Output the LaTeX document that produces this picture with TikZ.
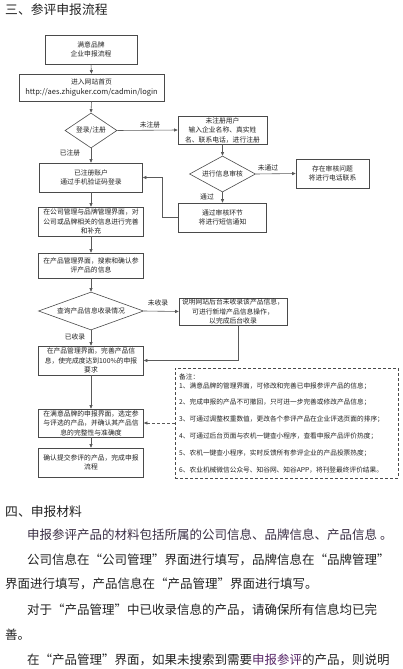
\documentclass[tikz,border=0pt]{standalone}
\usepackage{fontspec}
\usetikzlibrary{arrows.meta,shapes.geometric}
\newfontfamily\cjk{Noto Sans CJK SC}
\definecolor{lnc}{HTML}{5A5A5A}
\definecolor{bdc}{HTML}{4A4A4A}
\definecolor{txc}{HTML}{222222}
\definecolor{ppl}{HTML}{5A2A6A}
\definecolor{ppd}{HTML}{3A2E44}
\newcommand\qo{\makebox[1em][r]{“}}
\newcommand\qc{\makebox[1em][l]{”}}
\begin{document}
\begin{tikzpicture}[x=1pt,y=-1pt,
  every node/.style={font=\cjk, text=txc},
  flowbox/.style={draw=bdc, line width=0.6pt, rectangle, align=center, inner sep=1pt,
    font=\cjk\fontsize{6.8}{9.5}\selectfont},
  decide/.style={draw=bdc, line width=0.6pt, diamond, inner sep=0pt, align=center,
    font=\cjk\fontsize{6.8}{9.5}\selectfont},
  lbl/.style={inner sep=0pt, font=\cjk\fontsize{6.8}{8}\selectfont},
  notebox/.style={draw=bdc, line width=0.6pt, dash pattern=on 3pt off 2pt, rectangle},
  notetxt/.style={anchor=west, inner sep=0pt, font=\cjk\fontsize{6.7}{8}\selectfont},
  bodytxt/.style={anchor=west, inner sep=0pt, font=\cjk\fontsize{12.5}{15}\selectfont},
  headtxt/.style={anchor=west, inner sep=0pt, font=\cjk\fontsize{12.8}{15}\selectfont},
  arr/.style={draw=lnc, line width=0.6pt, -{Triangle[length=3.5pt,width=3pt]}}
]
\useasboundingbox (0,0) rectangle (402,669);

% heading
\node[headtxt] (h3) at (5,10) {三、参评申报流程};

% left column
\node[flowbox, minimum width=92pt, minimum height=29pt] (b1) at (91,49.5) {满意品牌\\企业申报流程};
\node[flowbox, minimum width=145pt, minimum height=27pt] (b2) at (91.5,87.5) {进入网站首页\\{\fontsize{7.5}{9.5}\selectfont http://aes.zhiguker.com/cadmin/login}};
\node[decide, shape aspect=1.49, minimum width=52pt, minimum height=35pt] (d1) at (91,130.5) {登录/注册};
\node[flowbox, minimum width=103pt, minimum height=29pt] (b3) at (91,177.5) {已注册账户\\通过手机验证码登录};
\node[flowbox, minimum width=105pt, minimum height=29pt] (b4) at (91,221.5) {在公司管理与品牌管理界面，对\\公司或品牌相关的信息进行完善\\和补充};
\node[flowbox, minimum width=105pt, minimum height=25pt] (b5) at (91,265.5) {在产品管理界面，搜索和确认参\\评产品的信息};
\node[decide, shape aspect=2.76, minimum width=105pt, minimum height=38pt] (d3) at (91,311) {查询产品信息收录情况};
\node[flowbox, minimum width=105pt, minimum height=29pt] (b7) at (91,360.5) {在产品管理界面，完善产品信\\息，使完成度达到100\%的申报\\要求};
\node[flowbox, minimum width=105pt, minimum height=28pt] (b8) at (91,423) {在满意品牌的申报界面，选定参\\与评选的产品，并确认其产品信\\息的完整性与准确度};
\node[flowbox, minimum width=105pt, minimum height=29pt] (b9) at (91,462.5) {确认提交参评的产品，完成申报\\流程};

% right side
\node[flowbox, minimum width=89pt, minimum height=28pt] (reg) at (222.5,130) {未注册用户\\输入企业名称、真实姓\\名、联系电话，进行注册};
\node[decide, shape aspect=1.83, minimum width=66pt, minimum height=36pt] (d2) at (222.5,174) {进行信息审核};
\node[flowbox, minimum width=73pt, minimum height=29pt] (prob) at (332.5,173.5) {存在审核问题\\将进行电话联系};
\node[flowbox, minimum width=88pt, minimum height=29pt] (pass) at (222.5,217.5) {通过审核环节\\将进行短信通知};
\node[flowbox, minimum width=108pt, minimum height=27pt] (b6) at (233,311.5) {说明网站后台未收录该产品信息，\\可进行新增产品信息操作，\\以完成后台收录};

% labels
\node[lbl] (l1) at (150,125) {未注册};
\node[lbl] (l2) at (70,153) {已注册};
\node[lbl] (l3) at (268,168) {未通过};
\node[lbl] (l4) at (207,197) {通过};
\node[lbl] (l5) at (158,303) {未收录};
\node[lbl] (l6) at (75,337) {已收录};

% connectors
\draw[arr] (b1.south) -- (b2.north);
\draw[arr] (b2.south) -- (d1.north);
\draw[arr] (d1.east) -- (reg.west);
\draw[arr] (d1.south) -- (b3.north);
\draw[arr] (reg.south) -- (d2.north);
\draw[arr] (d2.east) -- (prob.west);
\draw[arr] (d2.south) -- (pass.north);
\draw[arr] (pass.west) -- ++(-16,0) |- (b3.east);
\draw[arr] (b3.south) -- (b4.north);
\draw[arr] (b4.south) -- (b5.north);
\draw[arr] (b5.south) -- (d3.north);
\draw[arr] (d3.east) -- (b6.west);
\draw[arr] (d3.south) -- (b7.north);
\draw[arr] ([xshift=5pt]b6.south) |- (b7.east);
\draw[arr] (b7.south) -- (b8.north);
\draw[arr] (b8.south) -- (b9.north);

% note
\node[notebox, minimum width=223pt, minimum height=110pt] (note) at (286.5,423) {};
\draw[arr, dash pattern=on 3pt off 2pt] (note.west |- b8.east) -- (b8.east);
\node[notetxt] (n0) at (179,377) {备注：};
\node[notetxt] (n1) at (179,386) {1、满意品牌的管理界面，可修改和完善已申报参评产品的信息；};
\node[notetxt] (n2) at (179,402.5) {2、完成申报的产品不可撤回，只可进一步完善或修改产品信息；};
\node[notetxt] (n3) at (179,419) {3、可通过调整权重数值，更改各个参评产品在企业评选页面的排序；};
\node[notetxt] (n4) at (179,436) {4、可通过后台页面与农机一键查小程序，查看申报产品评价热度；};
\node[notetxt] (n5) at (179,453) {5、农机一键查小程序，实时反馈所有参评企业的产品投票热度；};
\node[notetxt] (n6) at (179,470) {6、农业机械微信公众号、知谷网、知谷APP，将刊登最终评价结果。};

% section 4
\node[headtxt] (h4) at (5,512) {四、申报材料};
\node[bodytxt, text=ppd] (t1) at (27,535) {申报参评产品的材料包括所属的公司信息、品牌信息、产品信息 。};
\node[bodytxt] (t2) at (27,560) {公司信息在\qo 公司管理\qc 界面进行填写，品牌信息在\qo 品牌管理\qc};
\node[bodytxt] (t3) at (5,584) {界面进行填写，产品信息在\qo 产品管理\qc 界面进行填写。};
\node[bodytxt] (t4) at (27,610) {对于\qo 产品管理\qc 中已收录信息的产品，请确保所有信息均已完};
\node[bodytxt] (t5) at (5,635) {善。};
\node[bodytxt] (t6) at (27,660) {在\qo 产品管理\qc 界面，如果未搜索到需要\textcolor{ppl}{申报参评}的产品，则说明};
\end{tikzpicture}
\end{document}
